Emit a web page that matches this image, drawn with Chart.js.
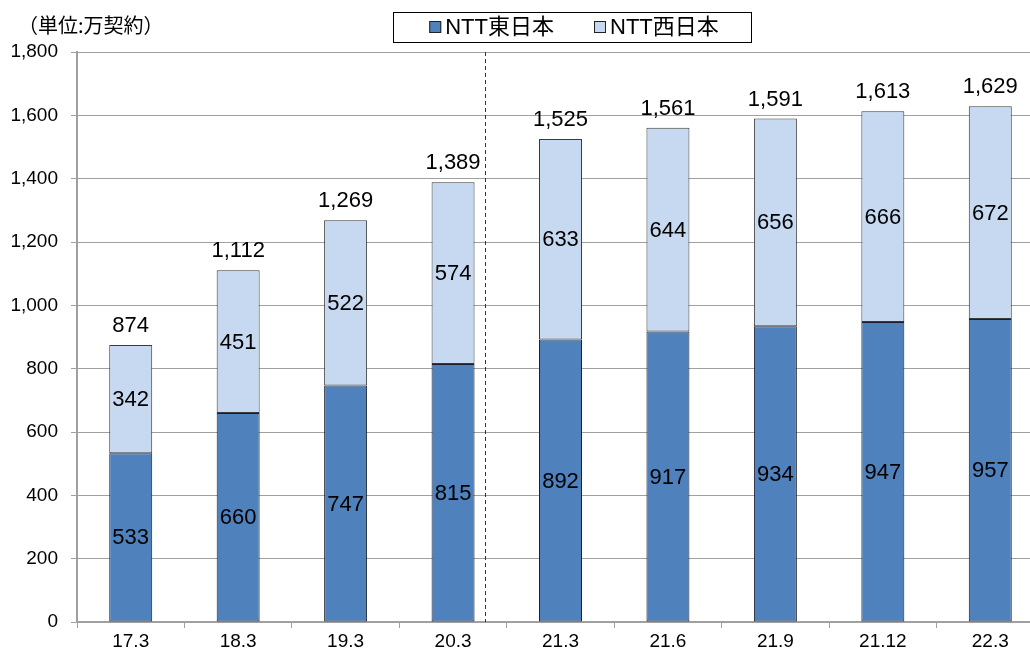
<!DOCTYPE html>
<html>
<head>
<meta charset="utf-8">
<script src="https://cdn.jsdelivr.net/npm/chart.js@4"></script>
<style>
  html, body { margin: 0; padding: 0; background: #fff; overflow: hidden; }
  #wrap { position: absolute; left: 0; top: 0; width: 1060px; height: 652px; }
</style>
</head>
<body>
<div id="wrap"><canvas id="myChart"></canvas></div>
<script>
const FONT = '"Liberation Sans", Arial, "Noto Sans CJK JP", sans-serif';

const periods = ['17.3', '18.3', '19.3', '20.3', '21.3', '21.6', '21.9', '21.12', '22.3'];
const east = [533, 660, 747, 815, 892, 917, 934, 947, 957];
const west = [342, 451, 522, 574, 633, 644, 656, 666, 672];
const totals = [874, 1112, 1269, 1389, 1525, 1561, 1591, 1613, 1629];
const seriesNames = ['NTT東日本', 'NTT西日本'];
const unitLabel = '（単位:万契約）';

const fmt = (v) => Number(v).toLocaleString('en-US');

// labels inside segments, totals on top, unit text, dashed divider, boxed legend
const extras = {
  id: 'extras',
  afterDatasetsDraw(chart) {
    const { ctx, chartArea, scales } = chart;
    ctx.save();

    // dashed divider between 20.3 and 21.3
    const x3 = scales.x.getPixelForValue(3);
    const x4 = scales.x.getPixelForValue(4);
    const dx = Math.round(x3 + (x4 - x3) * 0.3) + 0.5;
    ctx.strokeStyle = '#333';
    ctx.lineWidth = 1;
    ctx.setLineDash([4, 3]);
    ctx.beginPath();
    ctx.moveTo(dx, chartArea.top);
    ctx.lineTo(dx, chartArea.bottom);
    ctx.stroke();
    ctx.setLineDash([]);

    ctx.fillStyle = '#000';
    ctx.textAlign = 'center';
    ctx.textBaseline = 'middle';
    ctx.font = '22px ' + FONT;
    chart.data.datasets.forEach((ds, i) => {
      chart.getDatasetMeta(i).data.forEach((bar, j) => {
        const p = bar.getProps(['x', 'y', 'base'], true);
        ctx.fillText(fmt(ds.data[j]), p.x, (p.y + p.base) / 2 + 1);
      });
    });

    const topMeta = chart.getDatasetMeta(1);
    topMeta.data.forEach((bar, j) => {
      const p = bar.getProps(['x', 'y'], true);
      ctx.fillText(fmt(totals[j]), p.x, p.y - 19);
    });

    // unit label
    ctx.textAlign = 'left';
    ctx.font = '20px "Noto Sans CJK JP", sans-serif';
    ctx.fillText(unitLabel, 18, 25);

    // legend
    ctx.font = '22px ' + FONT;
    const box = 12, gapBox = 4, gapItem = 40;
    const widths = chart.data.datasets.map(ds => box + gapBox + ctx.measureText(ds.label).width);
    const inner = widths.reduce((a, b) => a + b, 0) + gapItem;
    const cx = 574, ly = 27;
    ctx.strokeStyle = '#000';
    ctx.strokeRect(393.5, 12.5, 358, 30);
    let x = cx - inner / 2;
    chart.data.datasets.forEach((ds, i) => {
      ctx.fillStyle = ds.backgroundColor;
      ctx.fillRect(x, ly - box / 2, box, box);
      ctx.strokeStyle = '#222';
      ctx.strokeRect(x + 0.5, ly - box / 2 + 0.5, box - 1, box - 1);
      ctx.fillStyle = '#000';
      ctx.fillText(ds.label, x + box + gapBox, ly + 1);
      x += widths[i] + gapItem;
    });

    ctx.restore();
  }
};

const ctx = document.getElementById('myChart');

const myChart = new Chart(ctx, {
  type: 'bar',
  data: {
    labels: periods,
    datasets: [{
      label: seriesNames[0],
      data: east,
      backgroundColor: '#4F81BD',
      borderColor: '#1d1d2b',
      borderWidth: 1,
      borderSkipped: false,
      barPercentage: 0.4,
      categoryPercentage: 1,
    }, {
      label: seriesNames[1],
      data: west,
      backgroundColor: '#C6D9F1',
      borderColor: '#3a3a3a',
      borderWidth: 1,
      borderSkipped: false,
      barPercentage: 0.4,
      categoryPercentage: 1,
    }],
  },
  options: {
    responsive: true,
    maintainAspectRatio: false,
    animation: false,
    layout: {
      padding: { top: 52, right: 16, left: 0, bottom: 0 },
    },
    plugins: {
      legend: { display: false },
      tooltip: { enabled: false },
    },
    scales: {
      x: {
        stacked: true,
        afterFit: (scale) => { scale.height = 30; },
        grid: {
          display: true,
          drawOnChartArea: false,
          offset: true,
          color: '#a0a0a0',
          tickLength: 6,
        },
        border: { color: '#a0a0a0', width: 2 },
        ticks: {
          color: '#000',
          font: { size: 19, family: FONT },
          padding: 2,
        },
      },
      y: {
        stacked: true,
        min: 0,
        max: 1800,
        afterFit: (scale) => { scale.width = 77; },
        grid: {
          color: '#a0a0a0',
          tickLength: 6,
        },
        border: { color: '#a0a0a0', width: 2 },
        ticks: {
          stepSize: 200,
          color: '#000',
          padding: 13,
          font: { size: 19, family: FONT },
          callback: (v) => fmt(v),
        },
      },
    },
  },
  plugins: [extras],
});
</script>
</body>
</html>
